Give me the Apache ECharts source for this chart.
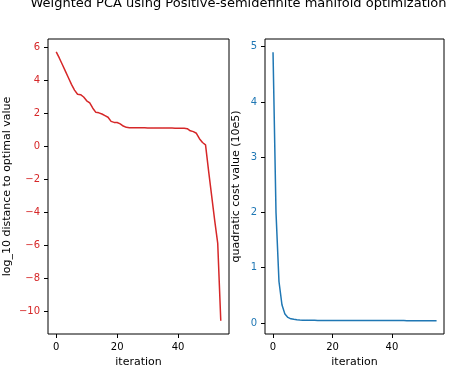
<!DOCTYPE html>
<html>
<head>
<meta charset="utf-8">
<script src="https://cdn.jsdelivr.net/npm/echarts@6/dist/echarts.min.js"></script>
<style>
html,body{margin:0;padding:0;background:#fff;}
#c{width:454px;height:366px;}
</style>
</head>
<body>
<div id="c"></div>
<script>
var titleText = "Weighted PCA using Positive-semidefinite manifold optimization";
var xLabel = "iteration";
var leftYLabel = "log_10 distance to optimal value";
var rightYLabel = "quadratic cost value (10e5)";

var logDistance = [5.72, 5.35, 4.95, 4.55, 4.15, 3.75, 3.4, 3.15, 3.12, 2.98,
  2.75, 2.62, 2.3, 2.05, 2.02, 1.95, 1.85, 1.75, 1.5, 1.44,
  1.43, 1.35, 1.22, 1.14, 1.12, 1.115, 1.112, 1.11, 1.11, 1.108,
  1.106, 1.105, 1.104, 1.103, 1.102, 1.1, 1.098, 1.096, 1.094, 1.092,
  1.09, 1.085, 1.08, 1.06, 0.93, 0.88, 0.78, 0.45, 0.22, 0.08,
  -1.5, -3.0, -4.5, -5.9, -10.6];
var quadCost = [4.9, 2.0, 0.75, 0.33, 0.16, 0.1, 0.075, 0.065, 0.058, 0.053,
  0.05, 0.049, 0.048, 0.047, 0.047, 0.046, 0.046, 0.046, 0.045, 0.045,
  0.045, 0.045, 0.045, 0.044, 0.044, 0.044, 0.044, 0.044, 0.044, 0.044,
  0.044, 0.043, 0.043, 0.043, 0.043, 0.043, 0.043, 0.043, 0.043, 0.043,
  0.043, 0.043, 0.043, 0.043, 0.043, 0.042, 0.042, 0.042, 0.042, 0.042,
  0.042, 0.042, 0.042, 0.042, 0.042, 0.042];
var xTicks = [0, 20, 40];
var leftYTicks = [-10, -8, -6, -4, -2, 0, 2, 4, 6];
var rightYTicks = [0, 1, 2, 3, 4, 5];

var RED = '#d62728', BLUE = '#1f77b4';
var FONT = 'DejaVu Sans';
function fmt(v){ return String(v).replace('-', '\u2212'); }

function xAxisFor(idx, maxv){
  return {
    type: 'value', gridIndex: idx, min: -2.7, max: maxv,
    name: xLabel, nameLocation: 'middle', nameGap: 23,
    nameTextStyle: {color: '#000', fontSize: 11, fontFamily: FONT},
    axisLine: {show: false, onZero: false},
    splitLine: {show: false},
    axisTick: {show: true, customValues: xTicks, length: 4, lineStyle: {color: '#000'}},
    axisLabel: {customValues: xTicks, color: '#000', fontSize: 10, fontFamily: FONT, margin: 8, formatter: fmt}
  };
}
function yAxisFor(idx, minv, maxv, ticks, color, name, gap){
  return {
    type: 'value', gridIndex: idx, min: minv, max: maxv,
    name: name, nameLocation: 'middle', nameGap: gap, nameRotate: 90,
    nameTextStyle: {color: '#000', fontSize: 11, fontFamily: FONT},
    axisLine: {show: false, onZero: false},
    splitLine: {show: false},
    axisTick: {show: true, customValues: ticks, length: 4, lineStyle: {color: '#000'}},
    axisLabel: {customValues: ticks, color: color, fontSize: 10, fontFamily: FONT, margin: 8, formatter: fmt}
  };
}

var leftData = logDistance.map(function(v, i){ return [i, v]; });
var rightData = quadCost.map(function(v, i){ return [i, v]; });

var chart = echarts.init(document.getElementById('c'), null, {renderer: 'canvas'});
chart.setOption({
  animation: false,
  backgroundColor: '#fff',
  graphic: [{
    type: 'text', x: 238.5, y: -3,
    style: {text: titleText, fill: '#000', font: '13px "DejaVu Sans"', align: 'center', verticalAlign: 'top'}
  }],
  grid: [
    {left: 48, top: 39, width: 181, height: 295, show: true, borderColor: '#000', borderWidth: 1, containLabel: false, outerBoundsMode: 'none'},
    {left: 265, top: 39, width: 179, height: 295, show: true, borderColor: '#000', borderWidth: 1, containLabel: false, outerBoundsMode: 'none'}
  ],
  xAxis: [xAxisFor(0, 56.7), xAxisFor(1, 57.5)],
  yAxis: [
    yAxisFor(0, -11.4, 6.5, leftYTicks, RED, leftYLabel, 35),
    yAxisFor(1, -0.2, 5.14, rightYTicks, BLUE, rightYLabel, 23)
  ],
  series: [
    {type: 'line', xAxisIndex: 0, yAxisIndex: 0, data: leftData, showSymbol: false,
     lineStyle: {color: RED, width: 1.5}, itemStyle: {color: RED}},
    {type: 'line', xAxisIndex: 1, yAxisIndex: 1, data: rightData, showSymbol: false,
     lineStyle: {color: BLUE, width: 1.5}, itemStyle: {color: BLUE}}
  ]
});
</script>
</body>
</html>
